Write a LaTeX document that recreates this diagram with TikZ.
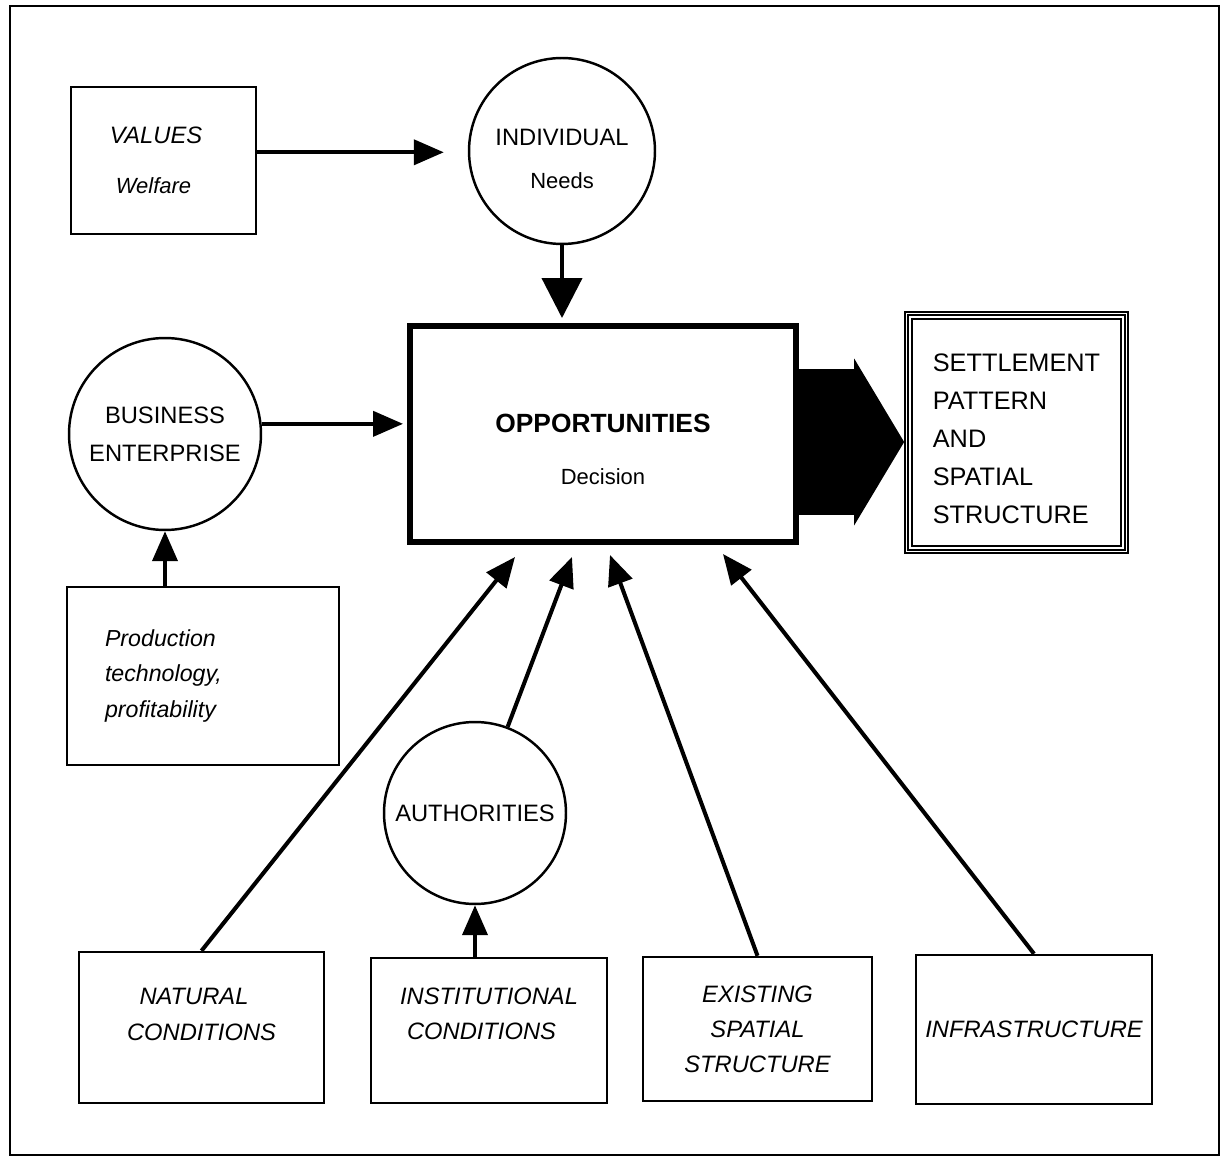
\documentclass[tikz,border=0pt]{standalone}
\usepackage{fontspec}
\setmainfont{Liberation Sans}
\usetikzlibrary{arrows.meta}
\newcommand\subtxt{\fontsize{12.5}{15}\selectfont}

\begin{document}
\begin{tikzpicture}[x=0.02cm,y=-0.02cm,
  base/.style={align=center,font=\fontsize{13.5}{20.5}\selectfont},
  box/.style={base,draw,line width=1.4pt,font=\fontsize{13.5}{20.5}\selectfont\itshape},
  bubble/.style={base,draw,circle,line width=1.4pt,inner sep=0pt},
  arr/.style={line width=2.3pt,-{Triangle[length=0.6cm,width=0.5cm]}}]
 \useasboundingbox (0,0) rectangle (1221,1158);
 \draw[line width=1.1pt] (10,6) rectangle (1219,1155);
 % top row
 \node[box,minimum width=3.7cm,minimum height=2.94cm] (val) at (163.5,160.5) {VALUES\hspace*{0.3cm}\\[8pt]{\subtxt Welfare}\hspace*{0.4cm}};
 \node[bubble,minimum size=3.72cm] (ind) at (562,151) {\rule{0pt}{18.7pt}INDIVIDUAL\\[4pt]{\subtxt Needs}};
 % middle row
 \node[base,draw,line width=3.4pt,minimum width=7.72cm,minimum height=4.32cm] (opp) at (603,434)
   {\rule{0pt}{28pt}{\fontsize{15}{18}\selectfont\bfseries OPPORTUNITIES}\\[9pt]{\subtxt Decision}};
 \node[base,align=left,draw,line width=1pt,minimum width=4.46cm,minimum height=4.82cm,
   font=\fontsize{14.4}{21.6}\selectfont] (set) at (1016.5,432.5) {\rule{0pt}{17pt}SETTLEMENT\\PATTERN\\AND\\SPATIAL\\STRUCTURE};
 \foreach \d in {4,8}
   \draw[line width=0.8pt] ([shift={(\d,\d)}]set.north west) rectangle ([shift={(-\d,-\d)}]set.south east);
 \node[bubble,minimum size=3.84cm,font=\fontsize{13.5}{21.5}\selectfont] (bus) at (165,434) {BUSINESS\\ENTERPRISE};
 \node[box,align=left,text width=3.92cm,inner xsep=0.76cm,minimum height=3.56cm,
   font=\fontsize{13.2}{20}\selectfont\itshape] (prod) at (203,676) {Production\\technology,\\profitability};
 \node[bubble,minimum size=3.64cm] (auth) at (475,813) {AUTHORITIES};
 % bottom row
 \node[box,minimum width=4.9cm,minimum height=3.02cm] (nat) at (201.5,1027.5) {NATURAL\hspace*{0.3cm}\\CONDITIONS\rule[-14.8pt]{0pt}{0pt}};
 \node[box,minimum width=4.72cm,minimum height=2.9cm,font=\fontsize{13.5}{19.5}\selectfont\itshape] (inst) at (489,1030.5) {INSTITUTIONAL\\CONDITIONS\hspace*{0.3cm}\rule[-19pt]{0pt}{0pt}};
 \node[box,minimum width=4.58cm,minimum height=2.88cm,font=\fontsize{13.5}{20}\selectfont\itshape] (ex) at (757.5,1029) {EXISTING\\SPATIAL\\STRUCTURE};
 \node[box,minimum width=4.72cm,minimum height=2.98cm] (inf) at (1034,1029.5) {INFRASTRUCTURE};
 % arrow tips below the decision box
 \coordinate (t1) at (515,557);
 \coordinate (t2) at (572,557);
 \coordinate (t3) at (610,555);
 \coordinate (t4) at (723,554);
 % connectors
 \draw[arr,shorten >=0.48cm] (val.5) -- (val.5 -| ind.west);
 \draw[line width=2.3pt,-{Triangle[length=0.8cm,width=0.8cm]},shorten >=0.1cm] (ind.south) -- (ind.south |- opp.north);
 \draw[arr,shorten >=0.08cm] (bus.6) -- (bus.6 -| opp.west);
 \draw[arr] (prod.north -| bus.south) -- (bus.south);
 \draw[arr] (inst.north -| auth.south) -- (auth.south);
 \draw[arr] (nat.north) -- (t1);
 \draw[arr] (auth) -- (t2);
 \draw[arr] (ex.north) -- (t3);
 \draw[arr] (inf.north) -- (t4);
 \draw[line width=2.94cm,-{Triangle[length=1cm,width=3.34cm,line width=0pt]}] ([yshift=-0.16cm]opp.east) -- ([yshift=-0.16cm]opp.east -| set.west);
\end{tikzpicture}
\end{document}
